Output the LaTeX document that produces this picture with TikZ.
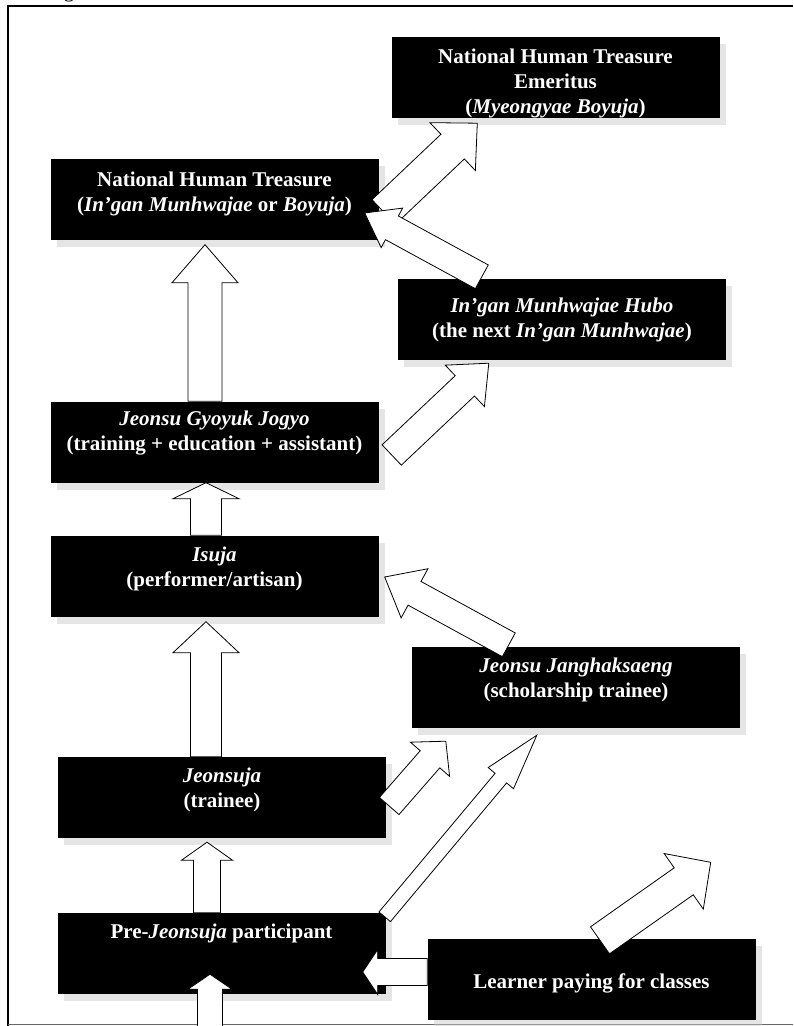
\documentclass[tikz,border=0pt]{standalone}
\usepackage{fontspec}
\setmainfont{Liberation Serif}
\usetikzlibrary{shapes,arrows,calc,positioning,shadows}
\tikzstyle{box} = [rectangle, fill=black, minimum width=328pt, minimum height=81pt, inner sep=0pt,
drop shadow={shadow xshift=6pt, shadow yshift=-7pt, fill=black!20}]
\tikzstyle{boxtext} = [text=white, align=center, inner sep=0pt, font=\fontsize{21}{25}\selectfont\bfseries]
\tikzstyle{blockarrow} = [draw=black, fill=white, line width=0.8pt, line join=miter]

% block arrow: tail, tip, half shaft, half head, head length
\newcommand{\fatarrow}[5]{%
  \coordinate (head) at ($(#2)!#5!(#1)$);
  \draw[blockarrow] ($(#1)!#3!90:(#2)$) -- ($(head)!#3!90:(#2)$) -- ($(head)!#4!90:(#2)$) -- (#2)
    -- ($(head)!#4!-90:(#2)$) -- ($(head)!#3!-90:(#2)$) -- ($(#1)!#3!-90:(#2)$) -- cycle;}

\begin{document}
\begin{tikzpicture}[x=1pt, y=-1pt]
				\useasboundingbox (0,0) rectangle (793,1026);
				% Frame
				\draw[line width=2pt] (8,1026) -- (8,6) -- (793,6);
				\draw[line width=1pt, black!60] (8,1024.5) -- (793,1024.5);
				\node[anchor=base, font=\fontsize{21}{25}\selectfont] (figlabel) at (69,-3) {g};
				
				% Place nodes
				\node (emer) [box] at (555.5,77.5) {};
				\node (nht) [box] at (214.5,199) {};
				\node (hubo) [box] at (562,319.5) {};
				\node (jogyo) [box] at (214.5,442) {};
				\node (isuja) [box] at (214.5,576) {};
				\node (jangh) [box] at (576,687.5) {};
				\node (jeonsuja) [box] at (222,797.5) {};
				\node (pre) [box] at (221.5,953.5) {};
				\node (learner) [box] at (591.5,979) {};
				
				% Texts
				\node (emer-txt) [boxtext, below=12pt of emer.north] {National Human Treasure\\Emeritus\\(\textit{Myeongyae Boyuja})};
				\node (nht-txt) [boxtext, below=13pt of nht.north] {National Human Treasure\\(\textit{In'gan Munhwajae} or \textit{Boyuja})};
				\node (hubo-txt) [boxtext, below=19pt of hubo.north] {\textit{In'gan Munhwajae Hubo}\\(the next \textit{In'gan Munhwajae})};
				\node (jogyo-txt) [boxtext, below=9pt of jogyo.north] {\textit{Jeonsu Gyoyuk Jogyo}\\(training + education + assistant)};
				\node (isuja-txt) [boxtext, below=11pt of isuja.north] {\textit{Isuja}\\(performer/artisan)};
				\node (jangh-txt) [boxtext, below=11pt of jangh.north] {\textit{Jeonsu Janghaksaeng}\\(scholarship trainee)};
				\node (jeonsuja-txt) [boxtext, below=11pt of jeonsuja.north] {\textit{Jeonsuja}\\(trainee)};
				\node (pre-txt) [boxtext, below=11pt of pre.north] {Pre-\textit{Jeonsuja} participant};
				\node (learner-txt) [boxtext] at ($(learner.center)+(0,4)$) {Learner paying for classes};
				
				% Arrow ends
				\coordinate (nht-out) at ($(nht.east)+(5,13)$);
				\coordinate (emer-in) at ($(emer.south west)+(86,5)$);
				\coordinate (hubo-out) at ($(hubo.north west)+(84,-2)$);
				\coordinate (nht-in) at ($(nht.east)+(-14,14)$);
				\coordinate (jogyo-up) at ($(jogyo.north)+(-9.5,0)$);
				\coordinate (nht-bot) at ($(nht.south)+(-9.5,5)$);
				\coordinate (jogyo-out) at ($(jogyo.east)+(13,13)$);
				\coordinate (hubo-in) at ($(hubo.south west)+(91,3)$);
				\coordinate (isuja-up) at ($(isuja.north)+(-8.5,0)$);
				\coordinate (jogyo-bot) at ($(jogyo.south)+(-8.5,0)$);
				\coordinate (jeonsuja-up) at ($(jeonsuja.north)+(-16,0)$);
				\coordinate (isuja-bot) at ($(isuja.south)+(-8.5,5)$);
				\coordinate (jangh-out) at ($(jangh.north west)+(97,-2)$);
				\coordinate (isuja-in) at ($(isuja.east)+(6,1)$);
				\coordinate (jeonsuja-out) at ($(jeonsuja.east)+(3,8.5)$);
				\coordinate (jangh-in) at ($(jangh.south west)+(34,13)$);
				\coordinate (pre-out) at ($(pre.north east)+(-1,4)$);
				\coordinate (jangh-in2) at ($(jangh.south west)+(125,7)$);
				\coordinate (pre-up) at ($(pre.north)+(-14.5,0)$);
				\coordinate (jeonsuja-bot) at ($(jeonsuja.south)+(-15,4)$);
				\coordinate (learner-left) at ($(learner.west)+(0,-7)$);
				\coordinate (pre-in) at ($(pre.east)+(-23,18.5)$);
				\coordinate (learner-top) at ($(learner.north)+(8.5,2)$);
				\coordinate (learner-away) at ($(learner.north east)+(-45,-76)$);
				\coordinate (pre-feed) at ($(pre.south)+(-11.5,40)$);
				\coordinate (pre-low) at ($(pre.south)+(-11.5,-20)$);
				
				% Draw arrows
				\fatarrow{nht-out}{emer-in}{17pt}{33pt}{34pt}
				\fatarrow{hubo-out}{nht-in}{13.5pt}{22.5pt}{31pt}
				\fatarrow{jogyo-up}{nht-bot}{17pt}{33pt}{38pt}
				\fatarrow{jogyo-out}{hubo-in}{14pt}{28.5pt}{33pt}
				\fatarrow{isuja-up}{jogyo-bot}{15.5pt}{33pt}{16pt}
				\fatarrow{jeonsuja-up}{isuja-bot}{15.5pt}{33pt}{31pt}
				\fatarrow{jangh-out}{isuja-in}{13.5pt}{28pt}{34pt}
				\fatarrow{jeonsuja-out}{jangh-in}{13pt}{26pt}{24pt}
				\fatarrow{pre-out}{jangh-in2}{7.5pt}{16.5pt}{56pt}
				\fatarrow{pre-up}{jeonsuja-bot}{13.5pt}{25.5pt}{18pt}
				\fatarrow{learner-left}{pre-in}{13.5pt}{22.5pt}{15pt}
				\fatarrow{learner-top}{learner-away}{16.5pt}{34pt}{33pt}
				\fatarrow{pre-feed}{pre-low}{12.5pt}{22pt}{15pt}
				
			\end{tikzpicture}
\end{document}
